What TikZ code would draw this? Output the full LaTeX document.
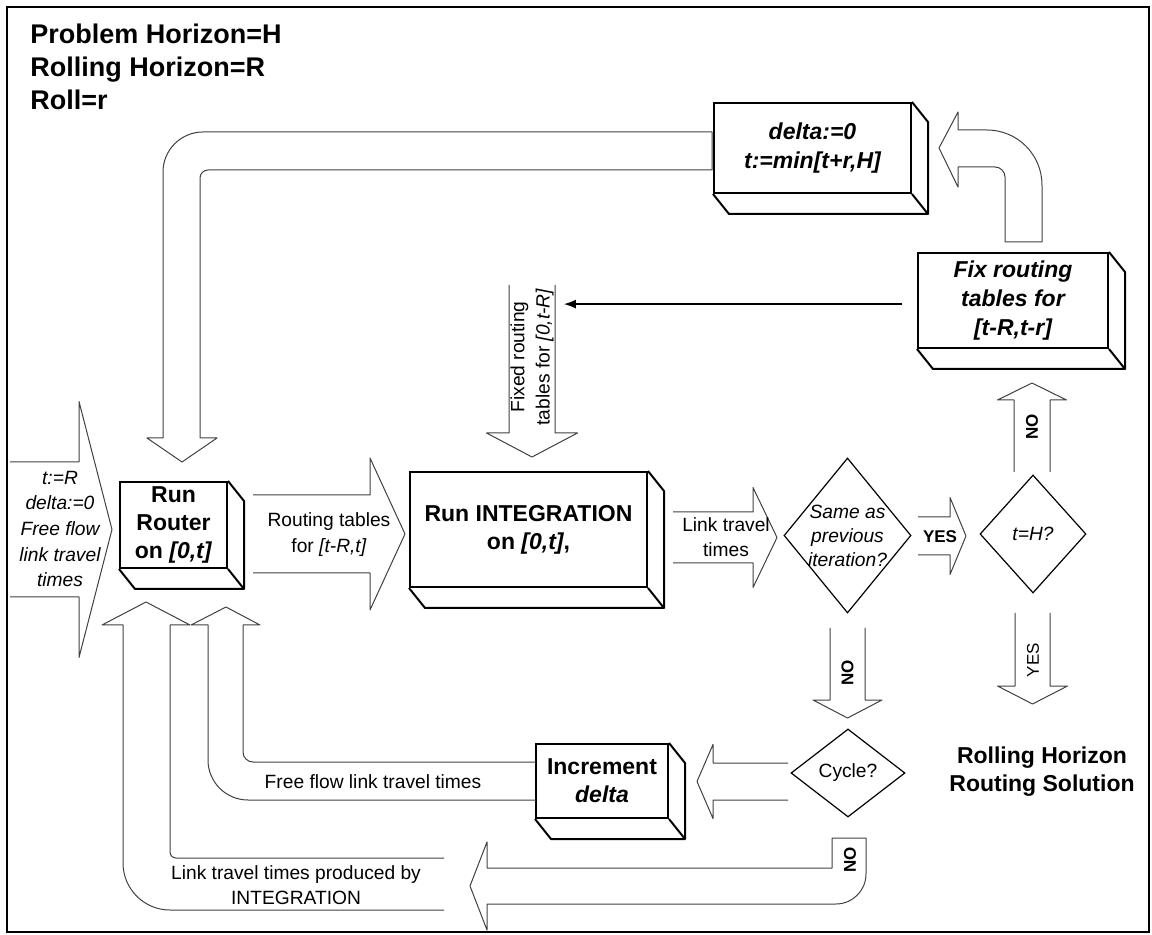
\documentclass[tikz,border=0pt]{standalone}
\usepackage{fontspec}
\setmainfont{Liberation Sans}
\usetikzlibrary{shapes.geometric,arrows.meta,calc}

\tikzset{
  slab/.style={draw,line width=1pt,inner sep=0pt,align=center,font=\bfseries\fontsize{11.5}{14}\selectfont},
  decide/.style={draw,diamond,line width=0.6pt,inner sep=0pt},
  lbl/.style={inner sep=0pt,align=center,font=\fontsize{9.6}{12.6}\selectfont},
  tag/.style={inner sep=0pt,font=\bfseries\fontsize{8.5}{10}\selectfont},
  barrow/.style={draw=black!75,line width=0.5pt,line join=round},
  pics/blockarr/.style args={#1/#2/#3/#4}{code={
    \draw[barrow] (0,#2) -- (#1,#2) -- (#1,#3) -- ({#1+#4},0) -- (#1,-#3) -- (#1,-#2) -- (0,-#2);
  }},
}
\newcommand{\extrude}[1]{%
  \draw[line width=1pt,line join=round] (#1.north east) -- ++(16,20) -- ($(#1.south east)+(16,20)$)
    -- ($(#1.south west)+(16,20)$) -- (#1.south west) (#1.south east) -- ++(16,20);}

\begin{document}
\begin{tikzpicture}[x=0.5pt,y=-0.5pt]
\useasboundingbox (0,0) rectangle (1152,935);
\draw[line width=0.8pt] (7,7) rectangle (1149,932);

\node[anchor=west,align=left,inner sep=0pt,font=\bfseries\fontsize{13.5}{16.5}\selectfont] (title) at (30,67)
  {Problem Horizon=H\\Rolling Horizon=R\\Roll=r};

% boxes
\node[slab,minimum width=53.5pt,minimum height=43pt] (router) at (173.5,525) {Run\\Router\\on \textit{[0,t]}};
\node[slab,minimum width=118.5pt,minimum height=57.5pt] (integ) at (528.5,529.5) {Run INTEGRATION\\on \textit{[0,t]},};
\node[slab,minimum width=98.5pt,minimum height=45pt,font=\bfseries\itshape\fontsize{11.5}{14.5}\selectfont] (reset) at (812.5,148) {delta:=0\\t:=min[t+r,H]};
\node[slab,minimum width=95pt,minimum height=47.5pt,font=\bfseries\itshape\fontsize{11.5}{14.5}\selectfont] (fix) at (1013,300.5) {Fix routing\\tables for\\{}[t-R,t-r]};
\node[slab,minimum width=66pt,minimum height=37pt] (incr) at (602,781) {Increment\\\textit{delta}};
\foreach \b in {router,integ,reset,fix,incr} {\extrude{\b}}

% decisions
\node[decide,minimum width=63.5pt,minimum height=77.5pt] (same) at (847.5,535.5) {};
\node[lbl,font=\itshape\fontsize{9.6}{12}\selectfont] (sameT) at (same) {Same as\\previous\\iteration?};
\node[decide,minimum width=53pt,minimum height=59pt] (endq) at (1033,534) {};
\node[lbl,font=\itshape\fontsize{9.6}{12}\selectfont] (endqT) at (endq) {t=H?};
\node[decide,minimum width=57pt,minimum height=44pt] (cycle) at (848,773) {};
\node[lbl] (cycleT) at (cycle) {Cycle?};

% straight block arrows
\pic at (10,529.5) {blockarr=69/67.5/128/33};
\pic at (253,534) {blockarr=117/39/76/35};
\pic at (673,537.5) {blockarr=80/25.5/50/24};
\pic at (918,536) {blockarr=32/19/38.5/16};
\pic[rotate=90] at (1032,472) {blockarr=72/18/34.5/17};
\pic[rotate=-90] at (532,285) {blockarr=148/23/45.5/24};
\pic[rotate=-90] at (847.5,628) {blockarr=72/17.5/34.5/18};
\pic[rotate=-90] at (1032.5,613) {blockarr=73/17.5/35/18};
\pic[rotate=180] at (788,781.5) {blockarr=75/18.5/37/16};

% bent block arrows
\draw[barrow] (712,132) -- (203,132) arc[start angle=270,end angle=180,radius=40] -- (163,438)
  -- (147,438) -- (182,462) -- (217,438) -- (200,438) -- (200,178)
  arc[start angle=180,end angle=270,radius=8] -- (712,170) -- cycle;
\draw[barrow] (1005,242) -- (1005,177) arc[start angle=0,end angle=-90,radius=10] -- (958,167)
  -- (958,187) -- (939,148) -- (958,112) -- (958,130) -- (987,130)
  arc[start angle=-90,end angle=0,radius=55] -- (1042,242) -- cycle;
\draw[barrow] (536,762) -- (253,762) arc[start angle=90,end angle=180,radius=10] -- (243,625)
  -- (260,625) -- (226,607) -- (191,625) -- (208,625) -- (208,760)
  arc[start angle=180,end angle=90,radius=40] -- (536,800);
\draw[barrow] (444,858) -- (176,858) arc[start angle=90,end angle=180,radius=6] -- (170,625)
  -- (190,625) -- (146,602) -- (102,625) -- (123,625) -- (123,863)
  arc[start angle=180,end angle=90,radius=47] -- (444,910);
\draw[barrow] (832,838) -- (832,868) -- (487,868) -- (487,842) -- (470,886) -- (487,930)
  -- (487,904) -- (836,904) arc[start angle=90,end angle=0,radius=30] -- (866,838) -- cycle;

% arrow labels
\node[lbl,font=\itshape\fontsize{9.6}{12.8}\selectfont] (initT) at (60,529) {t:=R\\delta:=0\\Free flow\\link travel\\times};
\node[lbl,font=\fontsize{9.6}{13}\selectfont] (rtT) at (329,535) {Routing tables\\for \textit{[t-R,t]}};
\node[lbl] (ltT) at (726,537) {Link travel\\times};
\node[tag] (yesT) at (940,537) {YES};
\node[tag,rotate=90] (noUp) at (1032,427) {NO};
\node[tag,rotate=90] (noDown) at (847.5,673) {NO};
\node[tag,rotate=90] (noCyc) at (850,860) {NO};
\node[tag,rotate=90,font=\fontsize{8.5}{10}\selectfont] (yesDown) at (1033,660) {YES};
\node[lbl,rotate=90] (fixlbl) at (532,357) {Fixed routing\\tables for \textit{[0,t-R]}};
\node[lbl] (ffT) at (373,782) {Free flow link travel times};
\node[lbl] (ltpT) at (296,885) {Link travel times produced by\\INTEGRATION};
\node[slab,draw=none] (result) at (1042,772) {Rolling Horizon\\Routing Solution};

% fixed tables go back to INTEGRATION
\coordinate (fixout) at ([xshift=-7.5pt,yshift=-1.8pt]fix.west);
\draw[line width=0.6pt,-{Latex[length=6pt,width=4.5pt]},shorten >=5pt] (fixout) -- (fixlbl.south |- fixout);
\end{tikzpicture}
\end{document}
